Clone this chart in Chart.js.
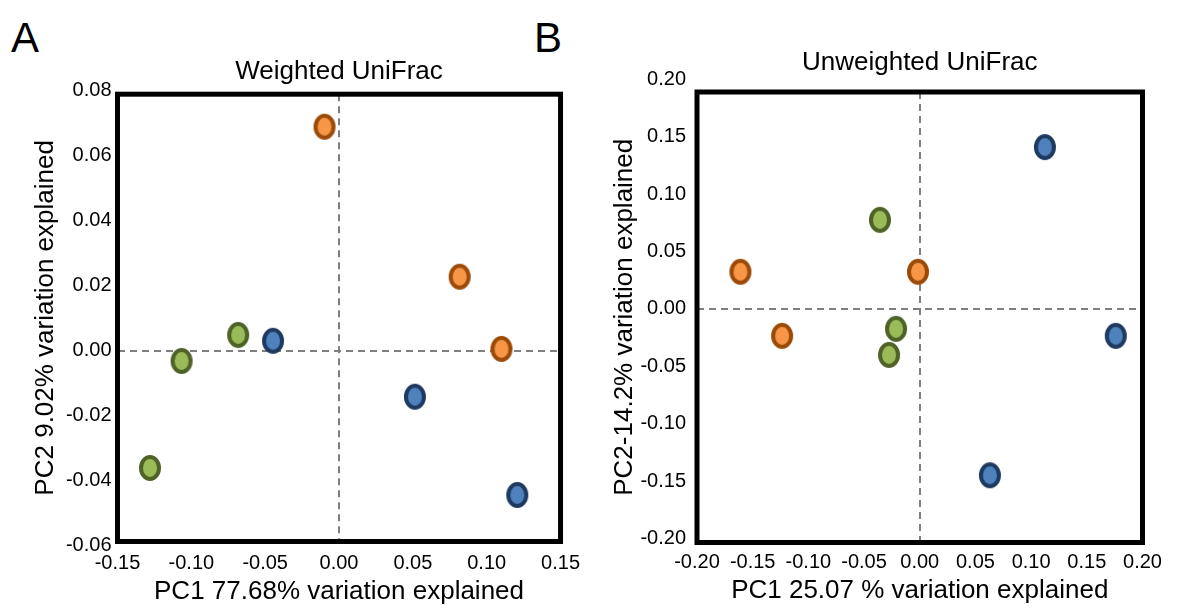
<!DOCTYPE html>
<html>
<head>
<meta charset="utf-8">
<script src="https://cdn.jsdelivr.net/npm/chart.js@4.4.0/dist/chart.umd.min.js"></script>
<style>
  body { margin: 0; background: #fff; width: 1178px; height: 615px; position: relative; overflow: hidden;
         font-family: 'Liberation Sans', Arial, sans-serif; }
  canvas { position: absolute; top: 0; }
  #chartA { left: 0; }
  #chartB { left: 590px; }
  .panel { position: absolute; font-size: 42px; line-height: 1; color: #000; }
</style>
</head>
<body>
<div class="panel" style="left:11px;top:17px">A</div>
<div class="panel" style="left:534px;top:17px">B</div>
<canvas id="chartA" width="590" height="615"></canvas>
<canvas id="chartB" width="588" height="615"></canvas>
<script>
/* ---- data: panel A, Weighted UniFrac ---- */
const orangeAx = [-0.0098, 0.0817, 0.110];
const orangeAy = [0.0688, 0.0227, 0.0005];
const greenAx  = [-0.0683, -0.1066, -0.128];
const greenAy  = [0.0048, -0.0032, -0.0361];
const blueAx   = [-0.0447, 0.0514, 0.1207];
const blueAy   = [0.0030, -0.0142, -0.0444];
const xTicksA  = [-0.15, -0.10, -0.05, 0.00, 0.05, 0.10, 0.15];
const yTicksA  = [-0.06, -0.04, -0.02, 0.00, 0.02, 0.04, 0.06, 0.08];

/* ---- data: panel B, Unweighted UniFrac ---- */
const orangeBx = [-0.161, -0.0016, -0.1236];
const orangeBy = [0.0323, 0.0323, -0.0235];
const greenBx  = [-0.0357, -0.0213, -0.0276];
const greenBy  = [0.0776, -0.0174, -0.0401];
const blueBx   = [0.1124, 0.176, 0.063];
const blueBy   = [0.141, -0.0235, -0.145];
const xTicksB  = [-0.20, -0.15, -0.10, -0.05, 0.00, 0.05, 0.10, 0.15, 0.20];
const yTicksB  = [-0.20, -0.15, -0.10, -0.05, 0.00, 0.05, 0.10, 0.15, 0.20];

Chart.defaults.font.family = "'Liberation Sans', Arial, sans-serif";
Chart.defaults.color = '#000';

function marker(fill, stroke) {
    const c = document.createElement('canvas');
    c.width = 26; c.height = 30;
    const g = c.getContext('2d');
    g.beginPath();
    g.ellipse(13, 15, 9, 11, 0, 0, Math.PI * 2);
    g.fillStyle = fill;
    g.fill();
    g.lineWidth = 4;
    g.strokeStyle = stroke;
    g.stroke();
    return c;
}

const orangeMark = marker('#f79646', '#9c4a08');
const greenMark  = marker('#9bbb59', '#4f6228');
const blueMark   = marker('#4f81bd', '#1f3a60');

const toPoints = (xs, ys) => xs.map((x, i) => ({ x: x, y: ys[i] }));

/* thick black frame round the plot area */
const framePlugin = {
    id: 'frame',
    beforeDatasetsDraw(chart) {
        const a = chart.chartArea;
        const ctx = chart.ctx;
        ctx.save();
        ctx.lineWidth = 5;
        ctx.strokeStyle = '#000';
        ctx.strokeRect(a.left, a.top, a.right - a.left, a.bottom - a.top);
        ctx.restore();
    }
};

const zeroGrid = {
    color: c => (c.tick && Math.abs(c.tick.value) < 1e-9) ? '#7f7f7f' : 'rgba(0,0,0,0)',
    lineWidth: 2,
    drawTicks: false
};

function makeChart(id, o) {
    return new Chart(document.getElementById(id), {
        type: 'scatter',
        data: {
            datasets: [
                { data: o.orange, pointStyle: orangeMark },
                { data: o.green,  pointStyle: greenMark },
                { data: o.blue,   pointStyle: blueMark }
            ]
        },
        options: {
            responsive: false,
            animation: false,
            events: [],
            clip: false,
            layout: { padding: { left: 0, right: o.padRight, top: 0, bottom: 0 } },
            plugins: {
                legend: { display: false },
                tooltip: { enabled: false },
                title: {
                    display: true,
                    text: o.title,
                    fullSize: false,
                    font: { size: 26, weight: 'normal' },
                    padding: { top: o.titleTop, bottom: o.titleBottom }
                }
            },
            scales: {
                x: {
                    type: 'linear',
                    min: o.xMin, max: o.xMax,
                    afterBuildTicks: s => { s.ticks = o.xTicks.map(v => ({ value: v })); },
                    afterFit: s => { s.height = o.xHeight; },
                    grid: zeroGrid,
                    border: { display: false, dash: [7, 5] },
                    ticks: {
                        font: { size: 20 }, padding: o.xTickPad,
                        maxRotation: 0, autoSkip: false,
                        callback: v => v.toFixed(2)
                    },
                    title: {
                        display: true, text: o.xTitle,
                        font: { size: 26 }, padding: { top: 0, bottom: o.xTitlePad }
                    }
                },
                y: {
                    type: 'linear',
                    min: o.yMin, max: o.yMax,
                    afterBuildTicks: s => { s.ticks = o.yTicks.map(v => ({ value: v })); },
                    afterFit: s => { s.width = o.yWidth; },
                    grid: zeroGrid,
                    border: { display: false, dash: [7, 5] },
                    ticks: {
                        font: { size: 20 }, padding: o.yTickPad,
                        autoSkip: false,
                        callback: v => v.toFixed(2)
                    },
                    title: {
                        display: true, text: o.yTitle,
                        font: { size: 26 }, padding: { top: o.yTitlePad, bottom: 0 }
                    }
                }
            }
        },
        plugins: [framePlugin]
    });
}

makeChart('chartA', {
    orange: toPoints(orangeAx, orangeAy),
    green: toPoints(greenAx, greenAy),
    blue: toPoints(blueAx, blueAy),
    title: 'Weighted UniFrac',
    xTitle: 'PC1 77.68% variation explained',
    yTitle: 'PC2 9.02% variation explained',
    xMin: -0.15, xMax: 0.15, yMin: -0.0587, yMax: 0.0788,
    xTicks: xTicksA, yTicks: yTicksA,
    padRight: 26.5, titleTop: 56, titleBottom: 7, xHeight: 73.5, yWidth: 117.5,
    xTickPad: 10, yTickPad: 6, xTitlePad: 8, yTitlePad: 30
});

makeChart('chartB', {
    orange: toPoints(orangeBx, orangeBy),
    green: toPoints(greenBx, greenBy),
    blue: toPoints(blueBx, blueBy),
    title: 'Unweighted UniFrac',
    xTitle: 'PC1 25.07 % variation explained',
    yTitle: 'PC2-14.2% variation explained',
    xMin: -0.2, xMax: 0.2, yMin: -0.2036, yMax: 0.189,
    xTicks: xTicksB, yTicks: yTicksB,
    padRight: 35.5, titleTop: 47, titleBottom: 13.8, xHeight: 72.5, yWidth: 107,
    xTickPad: 8, yTickPad: 11, xTitlePad: 9, yTitlePad: 19
});
</script>
</body>
</html>
